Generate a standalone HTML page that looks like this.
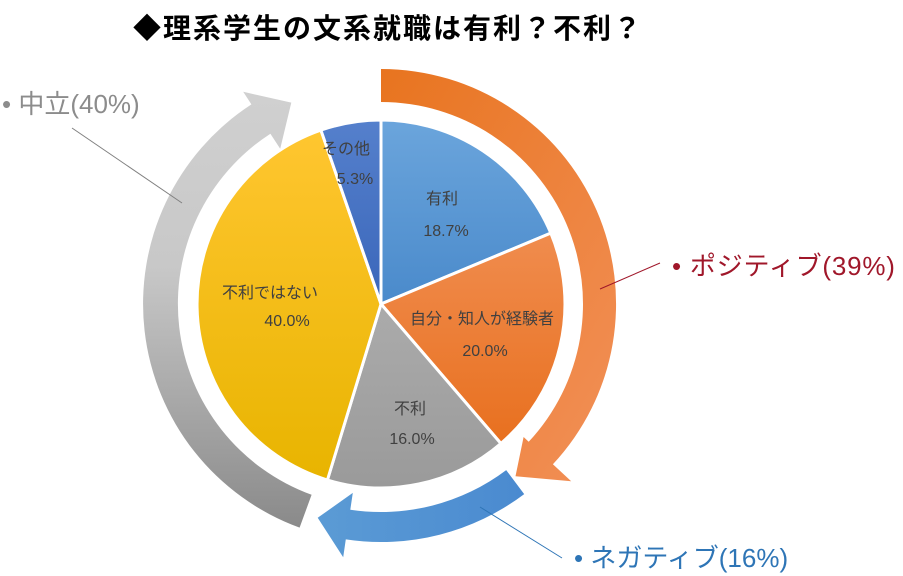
<!DOCTYPE html>
<html><head><meta charset="utf-8">
<style>
html,body{margin:0;padding:0;background:#fff;}
body{width:903px;height:576px;overflow:hidden;position:relative;font-family:"Liberation Sans","Noto Sans CJK JP",sans-serif;}
svg{position:absolute;left:0;top:0;}
</style></head><body>
<svg id="s" width="903" height="576" viewBox="0 0 903 576" xmlns="http://www.w3.org/2000/svg">
<defs>
<linearGradient id="gB" x1="0" y1="0" x2="0" y2="1"><stop offset="0" stop-color="#6BA5DC"/><stop offset="1" stop-color="#4A8ACB"/></linearGradient>
<linearGradient id="gO" x1="0" y1="0" x2="0" y2="1"><stop offset="0" stop-color="#F08C4E"/><stop offset="1" stop-color="#E8701F"/></linearGradient>
<linearGradient id="gG" x1="0" y1="0" x2="0" y2="1"><stop offset="0" stop-color="#ABABAB"/><stop offset="1" stop-color="#9A9A9A"/></linearGradient>
<linearGradient id="gY" x1="0" y1="0" x2="0" y2="1"><stop offset="0" stop-color="#FFC630"/><stop offset="1" stop-color="#E8B400"/></linearGradient>
<linearGradient id="gD" x1="0" y1="0" x2="0" y2="1"><stop offset="0" stop-color="#5580CC"/><stop offset="1" stop-color="#3A66BA"/></linearGradient>
<linearGradient id="aO" x1="0" y1="0" x2="1" y2="1"><stop offset="0" stop-color="#E8741F"/><stop offset="1" stop-color="#F29058"/></linearGradient>
<linearGradient id="aB" x1="1" y1="0" x2="0" y2="0"><stop offset="0" stop-color="#4A8AD0"/><stop offset="1" stop-color="#5B9BD5"/></linearGradient>
<linearGradient id="aG" x1="0" y1="1" x2="0" y2="0"><stop offset="0" stop-color="#8A8A8A"/><stop offset="0.6" stop-color="#C8C8C8"/><stop offset="1" stop-color="#D0D0D0"/></linearGradient>
</defs>
<g id="g"></g>
<text x="133" y="38" font-size="28" font-weight="bold" fill="#000" letter-spacing="2">◆理系学生の文系就職は有利？不利？</text>
<g font-size="16" fill="#404040" text-anchor="middle">
<text x="442" y="204">有利</text><text x="446" y="236">18.7%</text>
<text x="346" y="154">その他</text><text x="355" y="184">5.3%</text>
<text x="482" y="324">自分・知人が経験者</text><text x="485" y="356">20.0%</text>
<text x="410" y="414">不利</text><text x="412" y="444">16.0%</text>
<text x="270" y="298">不利ではない</text><text x="287" y="326">40.0%</text>
</g>
<line x1="72" y1="128" x2="182" y2="203" stroke="#808080" stroke-width="1"/>
<line x1="600" y1="289" x2="660" y2="263" stroke="#A0172A" stroke-width="1"/>
<line x1="480" y1="507" x2="562" y2="558" stroke="#2E75B6" stroke-width="1"/>
<text x="2" y="113" font-size="26" fill="#8C8C8C">• 中立(40%)</text>
<text x="672" y="275" font-size="26" fill="#A0172A" letter-spacing="0.8">• ポジティブ(39%)</text>
<text x="574" y="567" font-size="26" fill="#2E75B6">• ネガティブ(16%)</text>
</svg>
<script>
var cx=381,cy=304,R=184;
function P(r,a){a=a*Math.PI/180;return [(cx+r*Math.sin(a)).toFixed(1),(cy-r*Math.cos(a)).toFixed(1)];}
var g=document.getElementById('g'),h='';
var sl=[[0,67.32,'gB'],[67.32,139.32,'gO'],[139.32,196.92,'gG'],[196.92,340.92,'gY'],[340.92,360,'gD']];
sl.forEach(function(s){var a=P(R,s[0]),b=P(R,s[1]);var l=(s[1]-s[0])>180?1:0;
h+='<path d="M'+cx+' '+cy+' L'+a+' A'+R+' '+R+' 0 '+l+' 1 '+b+' Z" fill="url(#'+s[2]+')" stroke="#fff" stroke-width="3"/>';});
function arrow(a0,a1,r0,r1,h0,h1,tip,fill){
 var p1=P(r1,a0),p2=P(r1,a1),p3=P(r0,a1),p4=P(r0,a0);var l=Math.abs(a1-a0)>180?1:0;
 var d='M'+p4+' L'+p1+' A'+r1+' '+r1+' 0 '+l+' 1 '+p2+' L'+P(h1,a1)+' L'+P((r0+r1)/2,tip)+' L'+P(h0,a1)+' L'+p3+' A'+r0+' '+r0+' 0 '+l+' 0 '+p4+' Z';
 h+='<path d="'+d+'" fill="url(#'+fill+')"/>';
}
arrow(0,133,202,235,195,260,142,'aO');
arrow(143,188.5,208,238,191,256,196.5,'aB');
arrow(200,327,203,238,185,253,336,'aG');
g.innerHTML=h;
</script>
</body></html>
